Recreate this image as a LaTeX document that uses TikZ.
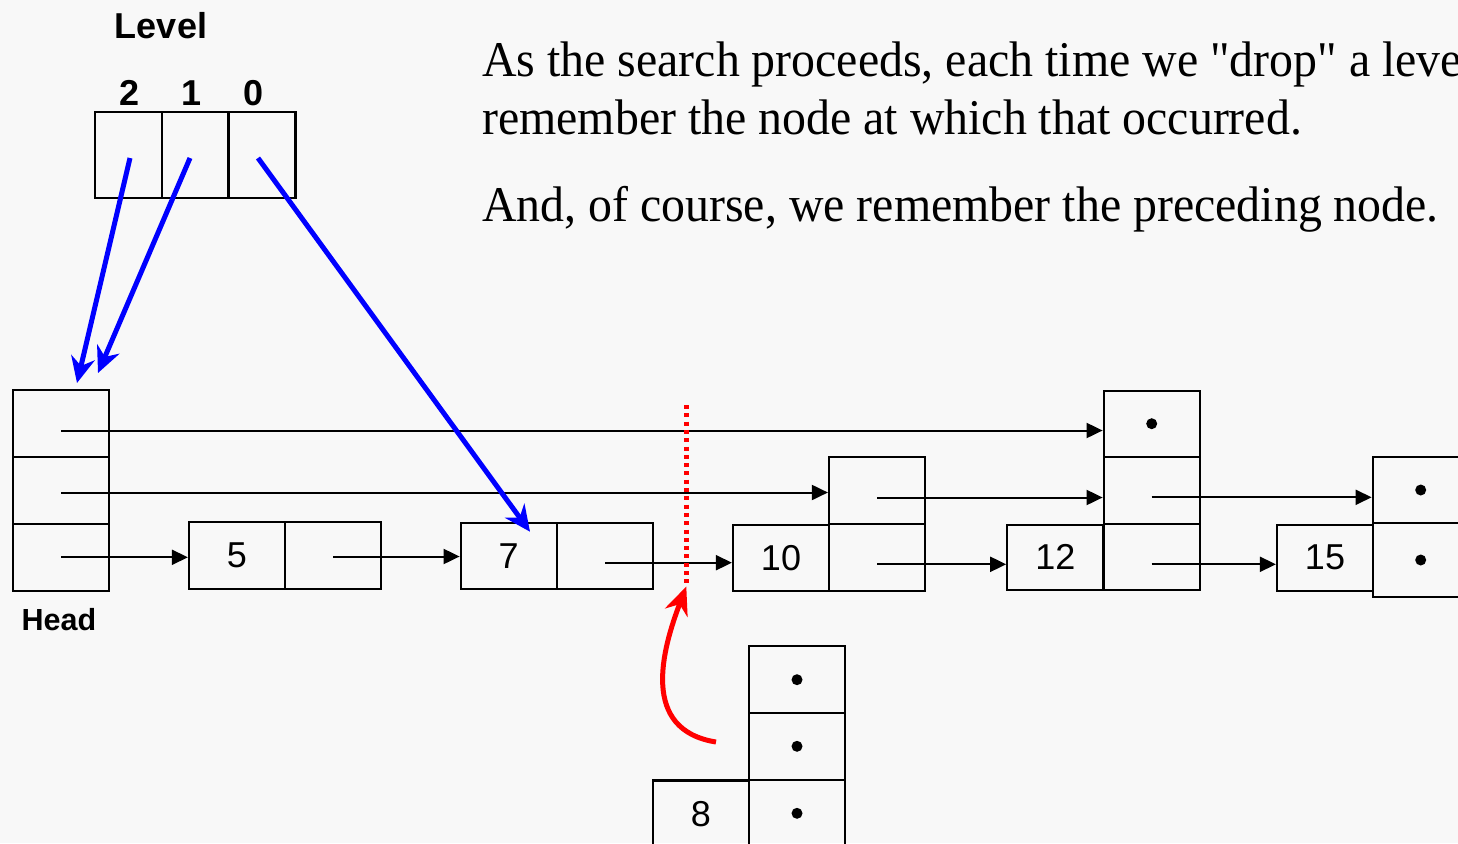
\documentclass[tikz,border=0pt]{standalone}
\usepackage{fontspec}
\setmainfont{Liberation Serif}
\setsansfont{Liberation Sans}
\newfontfamily\parafont[FakeStretch=0.957, Ligatures=TeXOff]{Liberation Serif}
\usetikzlibrary{arrows.meta}
\definecolor{bg}{RGB}{248,248,248}
\begin{document}
\begin{tikzpicture}[x=1pt,y=-1pt,
  cell/.style={draw, line width=2.2pt, minimum width=96pt, minimum height=67pt, inner sep=0pt,
    font=\sffamily\fontsize{36}{36}\selectfont},
  lvl/.style={cell, minimum width=67pt, minimum height=86pt},
  ptr/.style={line width=2pt, -{Triangle[length=16pt,width=15pt]}},
  bluearr/.style={draw=blue, line width=5pt, -{Stealth[length=26pt,width=24pt]}},
  redarr/.style={draw=red, line width=5pt, -{Stealth[length=28pt,width=24pt]}},
  dotmark/.style={circle, fill=black, inner sep=0pt, minimum size=11pt},
  boldlbl/.style={font=\sffamily\bfseries\fontsize{36}{36}\selectfont, inner sep=0pt, anchor=base},
  para/.style={font=\parafont\fontsize{50}{57.5}\selectfont, inner sep=0pt, anchor=base west}
]
\fill[bg] (0,0) rectangle (1458,843);
\useasboundingbox (0,0) rectangle (1458,843);
\clip (0,0) rectangle (1458,843);

% Level array
\node[boldlbl] (lvltitle) at (161,39) {Level};
\node[boldlbl] (lab2) at (130,105) {2};
\node[boldlbl] (lab1) at (192,105) {1};
\node[boldlbl] (lab0) at (254,105) {0};
\node[lvl] (L2) at (128.5,155) {};
\node[lvl] (L1) at (195.5,155) {};
\node[lvl] (L0) at (262,155) {};

% Text
\node[para] (t1) at (482,77) {As the search proceeds, each time we "drop" a level};
\node[para] (t2) at (482,134) {remember the node at which that occurred.};
\node[para] (t3) at (482,221) {And, of course, we remember the preceding node.};

% Head
\node[cell] (h2) at (61,423.5) {};
\node[cell] (h1) at (61,490.5) {};
\node[cell] (h0) at (61,557.3) {};
\node[font=\sffamily\bfseries\fontsize{30.5}{30.5}\selectfont, inner sep=0pt, anchor=base] (headlbl) at (59,630) {Head};

% node 5
\node[cell] (n5v) at (237,555.5) {5};
\node[cell] (n5p) at (333,555.5) {};
% node 7
\node[cell, minimum height=66pt] (n7v) at (508.7,556.3) {7};
\node[cell, minimum height=66pt] (n7p) at (605,556.3) {};
% node 10
\node[cell, minimum height=66pt] (n10v) at (781,557.7) {10};
\node[cell] (n10c0) at (877,557.3) {};
\node[cell] (n10c1) at (877,490.5) {};
% node 12
\node[cell, minimum height=65.3pt] (n12v) at (1055.3,557.3) {12};
\node[cell, minimum height=66pt] (n12c0) at (1151.7,557.3) {};
\node[cell] (n12c1) at (1151.7,490.3) {};
\node[cell, minimum height=66pt] (n12c2) at (1151.7,423.7) {};
\node[dotmark] (d12) at (n12c2.center) {};
% node 15
\node[cell, minimum height=66pt] (n15v) at (1325,557.7) {15};
\node[cell, minimum height=73.4pt] (n15c0) at (1420.7,560) {};
\node[cell, minimum height=66.6pt] (n15c1) at (1420.7,490) {};
\node[dotmark] (d15a) at (n15c1.center) {};
\node[dotmark] (d15b) at (n15c0.center) {};
% node 8
\node[cell] (n8v) at (701,814) {8};
\node[cell] (n8c0) at (797,813.3) {};
\node[cell] (n8c1) at (797,746.3) {};
\node[cell] (n8c2) at (797,679.7) {};
\node[dotmark] (d8a) at (n8c2.center) {};
\node[dotmark] (d8b) at (n8c1.center) {};
\node[dotmark] (d8c) at (n8c0.center) {};

% pointers
\draw[ptr] ([yshift=-7pt]h2.center) -- ([yshift=-7pt]h2.center -| n12c2.west);
\draw[ptr] ([yshift=-2pt]h1.center) -- ([yshift=-2pt]h1.center -| n10c1.west);
\draw[ptr] (h0.center) -- (h0.center -| n5v.west);
\draw[ptr] ([yshift=-1pt]n5p.center) -- ([yshift=-1pt]n5p.center -| n7v.west);
\draw[ptr] ([yshift=-6.4pt]n7p.center) -- ([yshift=-6.4pt]n7p.center -| n10v.west);
\draw[ptr] ([yshift=-7pt]n10c1.center) -- ([yshift=-7pt]n10c1.center -| n12c1.west);
\draw[ptr] ([yshift=-7pt]n10c0.center) -- ([yshift=-7pt]n10c0.center -| n12v.west);
\draw[ptr] ([yshift=-7pt]n12c1.center) -- ([yshift=-7pt]n12c1.center -| n15c1.west);
\draw[ptr] ([yshift=-7pt]n12c0.center) -- ([yshift=-7pt]n12c0.center -| n15v.west);

% red marker
\coordinate (dtop) at (686.3,405);
\coordinate (dbot) at (686.3,586.5);
\coordinate (rs) at (716,742);
\draw[red, line width=4.6pt, dash pattern=on 4pt off 4.3pt] (dtop) -- (dbot);
\draw[redarr] (rs) .. controls (640,730) and (662,650) .. (dbot);

% blue level pointers
\coordinate (s2) at (130,158);
\coordinate (s1) at (190,158);
\coordinate (s0) at (258,158);
\coordinate (e2) at (77,383);
\coordinate (e1) at (98,373);
\coordinate (e0) at (530,531.7);
\draw[bluearr] (s2) -- (e2);
\draw[bluearr] (s1) -- (e1);
\draw[bluearr] (s0) -- (e0);
\end{tikzpicture}
\end{document}
